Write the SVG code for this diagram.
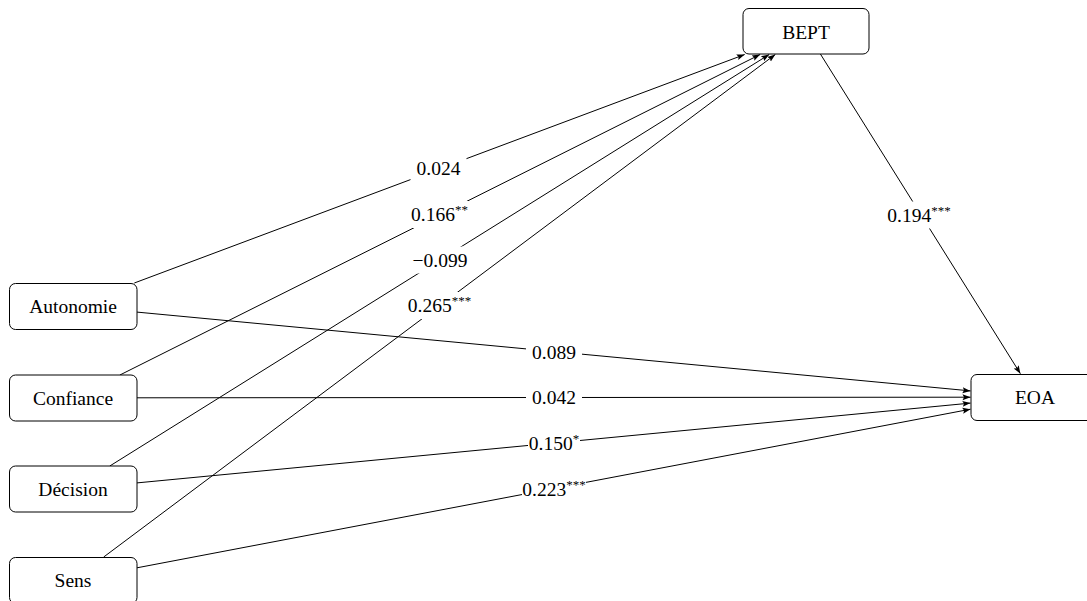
<svg xmlns="http://www.w3.org/2000/svg" width="1087" height="601" viewBox="0 0 1087 601">
<style>
.node rect{fill:#fff;stroke:#000;stroke-width:1}
.node text,.lbl text{font-family:"Liberation Serif","DejaVu Serif",serif;font-size:19.5px;text-anchor:middle;fill:#000}
.edge{stroke:#000;stroke-width:1;fill:none;marker-end:url(#arr)}
.lbl rect{fill:#fff;stroke:none}
.sup{font-size:13px}
</style>
<defs>
<marker id="arr" markerUnits="userSpaceOnUse" markerWidth="10" markerHeight="8" viewBox="0 0 10 8" refX="8" refY="4" orient="auto">
<path d="M0,1 L8,4 L0,7 L1.5,4 Z" fill="#000"/>
</marker>
</defs>
<rect width="1087" height="601" fill="#fff"/>
<g id="connectors">
<line class="edge" x1="134.3" y1="283" x2="744.7" y2="54.5"/>
<line class="edge" x1="119.9" y1="375" x2="760.1" y2="54.5"/>
<line class="edge" x1="109.8" y1="466" x2="769.2" y2="54.5"/>
<line class="edge" x1="103.7" y1="557" x2="775.3" y2="54.5"/>
<line class="edge" x1="820.4" y1="54" x2="1020.4" y2="373.7"/>
<line class="edge" x1="137" y1="312.1" x2="970.5" y2="390.9"/>
<line class="edge" x1="137" y1="397.8" x2="970.5" y2="397.2"/>
<line class="edge" x1="137" y1="482.9" x2="970.5" y2="403.1"/>
<line class="edge" x1="137" y1="567.8" x2="970.5" y2="409.2"/>
<g class="lbl">
<rect x="410.5" y="155" width="56" height="27"/><text x="438.5" y="175">0.024</text>
<rect x="411" y="201" width="57" height="27"/><text x="439.5" y="221">0.166<tspan class="sup" dy="-7">**</tspan></text>
<rect x="412" y="246.5" width="56" height="27"/><text x="440" y="266.5">−0.099</text>
<rect x="407.5" y="292" width="64" height="27"/><text x="439.5" y="312">0.265<tspan class="sup" dy="-7">***</tspan></text>
<rect x="887" y="201.5" width="64" height="27"/><text x="919" y="221.5">0.194<tspan class="sup" dy="-7">***</tspan></text>
<rect x="526" y="338" width="56" height="27"/><text x="554" y="358.5">0.089</text>
<rect x="526" y="384" width="56" height="27"/><text x="554" y="404">0.042</text>
<rect x="528" y="429.5" width="52" height="27"/><text x="554" y="449.5">0.150<tspan class="sup" dy="-7">*</tspan></text>
<rect x="522" y="475.5" width="64" height="27"/><text x="554" y="495.5">0.223<tspan class="sup" dy="-7">***</tspan></text>
</g>
</g>
<g id="BEPT" class="node"><rect x="743" y="8.5" width="126" height="45.5" rx="6"/><text x="806" y="38.5">BEPT</text></g>
<g id="Autonomie" class="node"><rect x="9.5" y="283.5" width="127.5" height="46" rx="6"/><text x="73" y="313">Autonomie</text></g>
<g id="Confiance" class="node"><rect x="9.5" y="375" width="127.5" height="46" rx="6"/><text x="73" y="404.5">Confiance</text></g>
<g id="Decision" class="node"><rect x="9.5" y="466" width="127.5" height="46" rx="6"/><text x="73" y="495.5">Décision</text></g>
<g id="Sens" class="node"><rect x="9.5" y="557.5" width="127.5" height="46" rx="6"/><text x="73" y="587">Sens</text></g>
<g id="EOA" class="node"><rect x="971" y="374.5" width="128" height="46" rx="6"/><text x="1035" y="404">EOA</text></g>
</svg>
